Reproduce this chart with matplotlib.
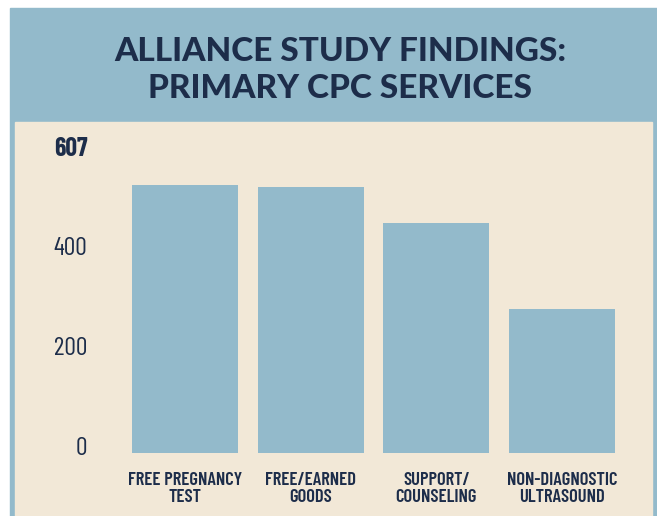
import matplotlib.pyplot as plt
import matplotlib.transforms as mtransforms
from matplotlib.patches import Rectangle

# data
services = ["FREE PREGNANCY\nTEST", "FREE/EARNED\nGOODS", "SUPPORT/\nCOUNSELING", "NON-DIAGNOSTIC\nULTRASOUND"]
counts = [536, 533, 460, 288]
y_ticks = [0, 200, 400, 607]
title = "ALLIANCE STUDY FINDINGS:\nPRIMARY CPC SERVICES"

blue = "#93bacb"
beige = "#f2e8d7"
navy = "#1d2d4a"
narrow = ["Barlow Condensed", "DejaVu Sans"]

W, H = 657, 516
fig = plt.figure(figsize=(W / 100, H / 100), dpi=100)
fig.patch.set_facecolor("white")

# header band and beige panel (pixel coords -> figure fraction)
def box(x0, y0, x1, y1, color):
    fig.patches.append(Rectangle((x0 / W, 1 - y1 / H), (x1 - x0) / W, (y1 - y0) / H,
                                 transform=fig.transFigure, color=color, zorder=-5))

box(10, 8, W, H, blue)
box(15, 122, 652, H, beige)

fig.text(340 / W, 1 - 70 / H, title, ha="center", va="center", fontsize=24,
         fontweight="black", family=["Lato", "DejaVu Sans"], color=navy,
         linespacing=1.35)

# axes: 0 at y=453px, 607 at 149.5px, bars centred 125.7px apart
left, right = 122, 625
bottom, top = 453, 149.5
ax = fig.add_axes([left / W, 1 - bottom / H, (right - left) / W, (bottom - top) / H])
ax.set_zorder(2)
ax.set_facecolor("none")
ax.bar(range(len(services)), counts, width=0.843, color=blue)
ax.set_xlim(-0.5, 3.5)
ax.set_ylim(0, 607)
for s in ax.spines.values():
    s.set_visible(False)

ax.set_yticks(y_ticks)
ax.set_yticklabels([str(v) for v in y_ticks], family=narrow, fontsize=18.5, color=navy)
ax.tick_params(axis="y", length=0, pad=25)
ax.set_xticks(range(len(services)))
ax.set_xticklabels(services, family=narrow, fontsize=13.4, fontweight=600,
                   color=navy, linespacing=1.03)
ax.tick_params(axis="x", length=0, pad=13.5)

for lab in ax.get_yticklabels():
    dy = 7 if lab.get_text() != "607" else 3
    lab.set_transform(lab.get_transform() + mtransforms.ScaledTranslation(0, dy / 100, fig.dpi_scale_trans))
    if lab.get_text() == "607":
        lab.set_fontweight("bold")

fig.savefig("out.png", dpi=100)
